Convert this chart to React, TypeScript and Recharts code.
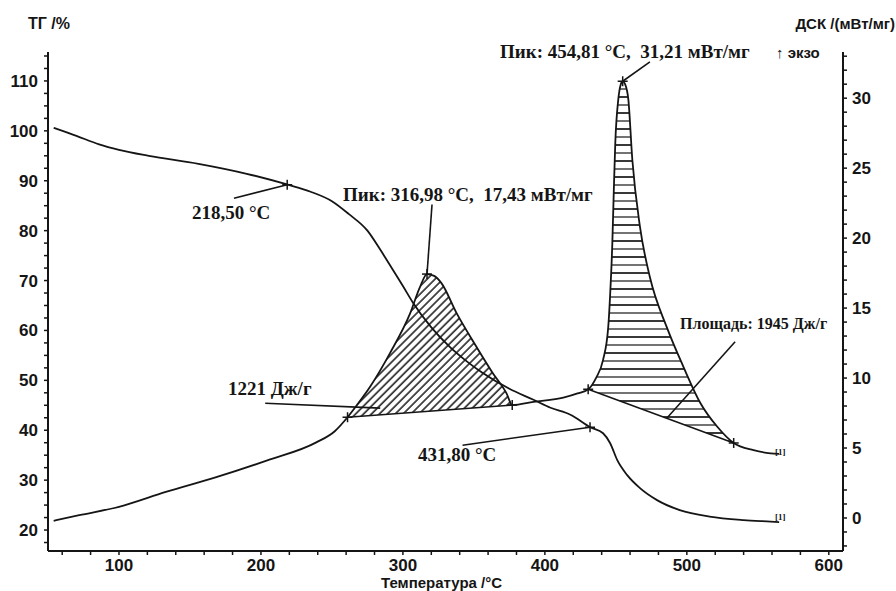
import React from 'react';
import { ComposedChart, Line, Area, XAxis, YAxis, ReferenceLine, ReferenceDot } from 'recharts';

// ТГ curve (left axis, %)
const tgTemp = [54, 70, 86, 100, 121, 156, 190, 219, 235, 250, 262, 275, 284, 293, 300, 307, 320, 333, 345, 356, 375, 392, 404, 418, 432, 441, 446, 451, 458, 467, 479, 495, 516, 540, 559, 565];
const tgMass = [100.6, 99.0, 97.3, 96.2, 95.0, 93.4, 91.4, 89.2, 87.8, 85.9, 83.3, 80.0, 76.2, 72.1, 68.9, 65.6, 60.6, 56.7, 53.8, 51.5, 48.3, 46.1, 44.5, 43.1, 40.6, 39.4, 37.4, 34.0, 31.0, 28.4, 26.0, 24.0, 22.7, 22.0, 21.7, 21.6];

// ДСК curve (right axis, мВт/мг)
const dscTemp = [54, 72, 100, 133, 168, 204, 239, 252, 261, 270, 277, 291, 305, 312, 316.98, 322, 327, 338, 352, 363, 373, 377, 392, 413, 423, 430.5, 436, 441, 444.6, 446, 447.5, 448.5, 449.6, 451.7, 453.5, 454.81, 456.5, 458.8, 461.6, 467, 474, 486, 497.6, 509.6, 521.6, 533, 547, 559, 565];
const dscFlow = [-0.2, 0.2, 0.8, 1.86, 2.9, 4.1, 5.4, 6.2, 7.2, 8.4, 9.4, 11.8, 14.6, 16.5, 17.43, 17.3, 16.8, 14.6, 12.2, 10.4, 8.9, 8.07, 8.3, 8.6, 8.9, 9.2, 10.0, 11.3, 13.6, 16.0, 19.6, 23.2, 26.8, 29.9, 31.0, 31.21, 31.0, 29.9, 25.6, 20.8, 17.2, 13.6, 10.8, 8.2, 6.5, 5.36, 4.85, 4.62, 4.58];

// integration limits (baseline end points) of the two peaks
const peak1 = [{ t: 261, v: 7.2 }, { t: 377, v: 8.07 }];
const peak2 = [{ t: 430.5, v: 9.2 }, { t: 533, v: 5.36 }];

// marked points
const tgMarks = [{ t: 218.5, v: 89.2 }, { t: 431.8, v: 40.6 }];
const dscMarks = [{ t: 261, v: 7.2 }, { t: 316.98, v: 17.43 }, { t: 377, v: 8.07 }, { t: 430.5, v: 9.2 }, { t: 454.81, v: 31.21 }, { t: 533, v: 5.36 }];

const xLabels = [100, 200, 300, 400, 500, 600];
const tgLabels = [20, 30, 40, 50, 60, 70, 80, 90, 100, 110];
const dscLabels = [0, 5, 10, 15, 20, 25, 30];

const range = (a: number, b: number, s: number) => {
  const out: number[] = [];
  for (let v = a; v <= b + 1e-9; v += s) out.push(+v.toFixed(2));
  return out;
};
const xTicks = range(60, 600, 20);
const tgTicks = range(17.5, 115, 2.5);
const dscTicks = range(-2, 33, 1);

const zip = (ts: number[], vs: number[]) => ts.map((t, i) => ({ t, v: vs[i] }));
const tgData = zip(tgTemp, tgMass);
const dscData = zip(dscTemp, dscFlow);

// region between the straight baseline and the DSC curve
const hatch = (pk: { t: number; v: number }[]) => {
  const [a, b] = pk;
  return dscData
    .filter((d) => d.t >= a.t && d.t <= b.t)
    .map((d) => ({ t: d.t, r: [a.v + ((d.t - a.t) / (b.t - a.t)) * (b.v - a.v), d.v] }));
};

const INK = '#151515';
const serif = '"Liberation Serif", "Times New Roman", serif';
const sans = '"Liberation Sans", Arial, sans-serif';
const tickStyle = { fill: INK, fontSize: 17, fontWeight: 700, fontFamily: sans };

const Cross = (p: any) => (
  <g stroke={INK} strokeWidth={1.5}>
    <line x1={p.cx - 5} y1={p.cy} x2={p.cx + 5} y2={p.cy} />
    <line x1={p.cx} y1={p.cy - 5} x2={p.cx} y2={p.cy + 5} />
  </g>
);

const note = (text: string, size = 19, family = serif, weight = 700) => (p: any) => (
  <text x={p.cx} y={p.cy} fill={INK} fontSize={size} fontFamily={family} fontWeight={weight} style={{ whiteSpace: 'pre' }}>
    {text}
  </text>
);

const leaders = [
  { axis: 'tg', seg: [{ x: 181, y: 86.5 }, { x: 218.5, y: 89.2 }] },
  { axis: 'dsc', seg: [{ x: 320.5, y: 22.4 }, { x: 316.98, y: 17.43 }] },
  { axis: 'dsc', seg: [{ x: 203, y: 8.2 }, { x: 284, y: 7.85 }] },
  { axis: 'tg', seg: [{ x: 342, y: 37.0 }, { x: 431.8, y: 40.6 }] },
  { axis: 'dsc', seg: [{ x: 474, y: 32.6 }, { x: 454.81, y: 31.21 }] },
  { axis: 'dsc', seg: [{ x: 534, y: 12.6 }, { x: 486, y: 7.15 }] },
  { axis: 'dsc', seg: peak1.map((p) => ({ x: p.t, y: p.v })) },
  { axis: 'dsc', seg: peak2.map((p) => ({ x: p.t, y: p.v })) },
];

const notes = [
  { axis: 'tg', t: 151.4, v: 82.3, shape: note('218,50 °C') },
  { axis: 'dsc', t: 257.8, v: 22.65, shape: note('Пик: 316,98 °C,  17,43 мВт/мг') },
  { axis: 'dsc', t: 176.8, v: 8.78, shape: note('1221 Дж/г') },
  { axis: 'tg', t: 310.6, v: 33.8, shape: note('431,80 °C') },
  { axis: 'dsc', t: 368.4, v: 32.87, shape: note('Пик: 454,81 °C,  31,21 мВт/мг') },
  { axis: 'dsc', t: 562.8, v: 32.87, shape: note('↑ экзо', 15, sans) },
  { axis: 'dsc', t: 495.2, v: 13.5, shape: note('Площадь: 1945 Дж/г', 16) },
  { axis: 'dsc', t: 562.1, v: 4.49, shape: note('[1]', 9) },
  { axis: 'dsc', t: 562.1, v: -0.15, shape: note('[1]', 9) },
];

export default function App() {
  return (
    <div style={{ position: 'absolute', left: 0, top: 0, width: 896, height: 591, background: '#fff' }}>
      <ComposedChart width={896} height={591} margin={{ top: 52, right: 0, bottom: 0, left: 0 }}>
        <defs>
          <pattern id="diag" width="5.6" height="5.6" patternUnits="userSpaceOnUse" patternTransform="rotate(45)">
            <line x1="1" y1="0" x2="1" y2="5.6" stroke={INK} strokeWidth="1.5" />
          </pattern>
          <pattern id="horiz" width="8" height="16" patternUnits="userSpaceOnUse">
            <line x1="0" y1="1" x2="8" y2="1" stroke={INK} strokeWidth="1.7" />
            <line x1="0" y1="9" x2="8" y2="9" stroke="#444" strokeWidth="1.5" />
          </pattern>
        </defs>
        <XAxis
          type="number"
          dataKey="t"
          domain={[50, 610]}
          ticks={xTicks}
          interval={0}
          tickFormatter={(v) => (xLabels.includes(v) ? String(v) : '')}
          height={40}
          tickSize={4}
          tickMargin={4}
          tick={tickStyle}
          axisLine={{ stroke: INK, strokeWidth: 2 }}
          tickLine={{ stroke: INK, strokeWidth: 1.5 }}
          allowDataOverflow
        />
        <YAxis
          yAxisId="tg"
          orientation="left"
          domain={[15.8, 115.8]}
          ticks={tgTicks}
          interval={0}
          tickFormatter={(v) => (tgLabels.includes(v) ? String(v) : '')}
          width={48}
          tickSize={4}
          tickMargin={6}
          tick={tickStyle}
          axisLine={{ stroke: INK, strokeWidth: 2 }}
          tickLine={{ stroke: INK, strokeWidth: 1.5 }}
          allowDataOverflow
        />
        <YAxis
          yAxisId="dsc"
          orientation="right"
          domain={[-2.36, 33.3]}
          ticks={dscTicks}
          interval={0}
          tickFormatter={(v) => (dscLabels.includes(v) ? String(v) : '')}
          width={53}
          tickSize={4}
          tickMargin={5}
          tick={tickStyle}
          axisLine={{ stroke: INK, strokeWidth: 2 }}
          tickLine={{ stroke: INK, strokeWidth: 1.5 }}
          allowDataOverflow
        />
        <Area yAxisId="dsc" data={hatch(peak1)} dataKey="r" type="monotone" fill="url(#diag)" fillOpacity={1} stroke="none" isAnimationActive={false} />
        <Area yAxisId="dsc" data={hatch(peak2)} dataKey="r" type="monotone" fill="url(#horiz)" fillOpacity={1} stroke="none" isAnimationActive={false} />
        <Line yAxisId="tg" data={tgData} dataKey="v" type="monotone" stroke={INK} strokeWidth={1.8} dot={false} activeDot={false} isAnimationActive={false} />
        <Line yAxisId="dsc" data={dscData} dataKey="v" type="monotone" stroke={INK} strokeWidth={1.8} dot={false} activeDot={false} isAnimationActive={false} />
        {leaders.map((l, i) => (
          <ReferenceLine key={`l${i}`} yAxisId={l.axis} segment={l.seg} stroke={INK} strokeWidth={1.6} ifOverflow="visible" />
        ))}
        {tgMarks.map((m, i) => (
          <ReferenceDot key={`tm${i}`} yAxisId="tg" x={m.t} y={m.v} shape={Cross} ifOverflow="visible" />
        ))}
        {dscMarks.map((m, i) => (
          <ReferenceDot key={`dm${i}`} yAxisId="dsc" x={m.t} y={m.v} shape={Cross} ifOverflow="visible" />
        ))}
        {notes.map((n, i) => (
          <ReferenceDot key={`n${i}`} yAxisId={n.axis} x={n.t} y={n.v} shape={n.shape} ifOverflow="visible" />
        ))}
      </ComposedChart>
      <svg width={896} height={591} style={{ position: 'absolute', left: 0, top: 0, pointerEvents: 'none' }}>
        <text x={28} y={29} fill={INK} fontSize={16} fontWeight={700} fontFamily={sans}>ТГ /%</text>
        <text x={895} y={29} textAnchor="end" fill={INK} fontSize={15} fontWeight={700} fontFamily={sans}>ДСК /(мВт/мг)</text>
        <text x={381} y={588} fill={INK} fontSize={15} fontWeight={700} fontFamily={sans}>Температура /°C</text>
      </svg>
    </div>
  );
}
